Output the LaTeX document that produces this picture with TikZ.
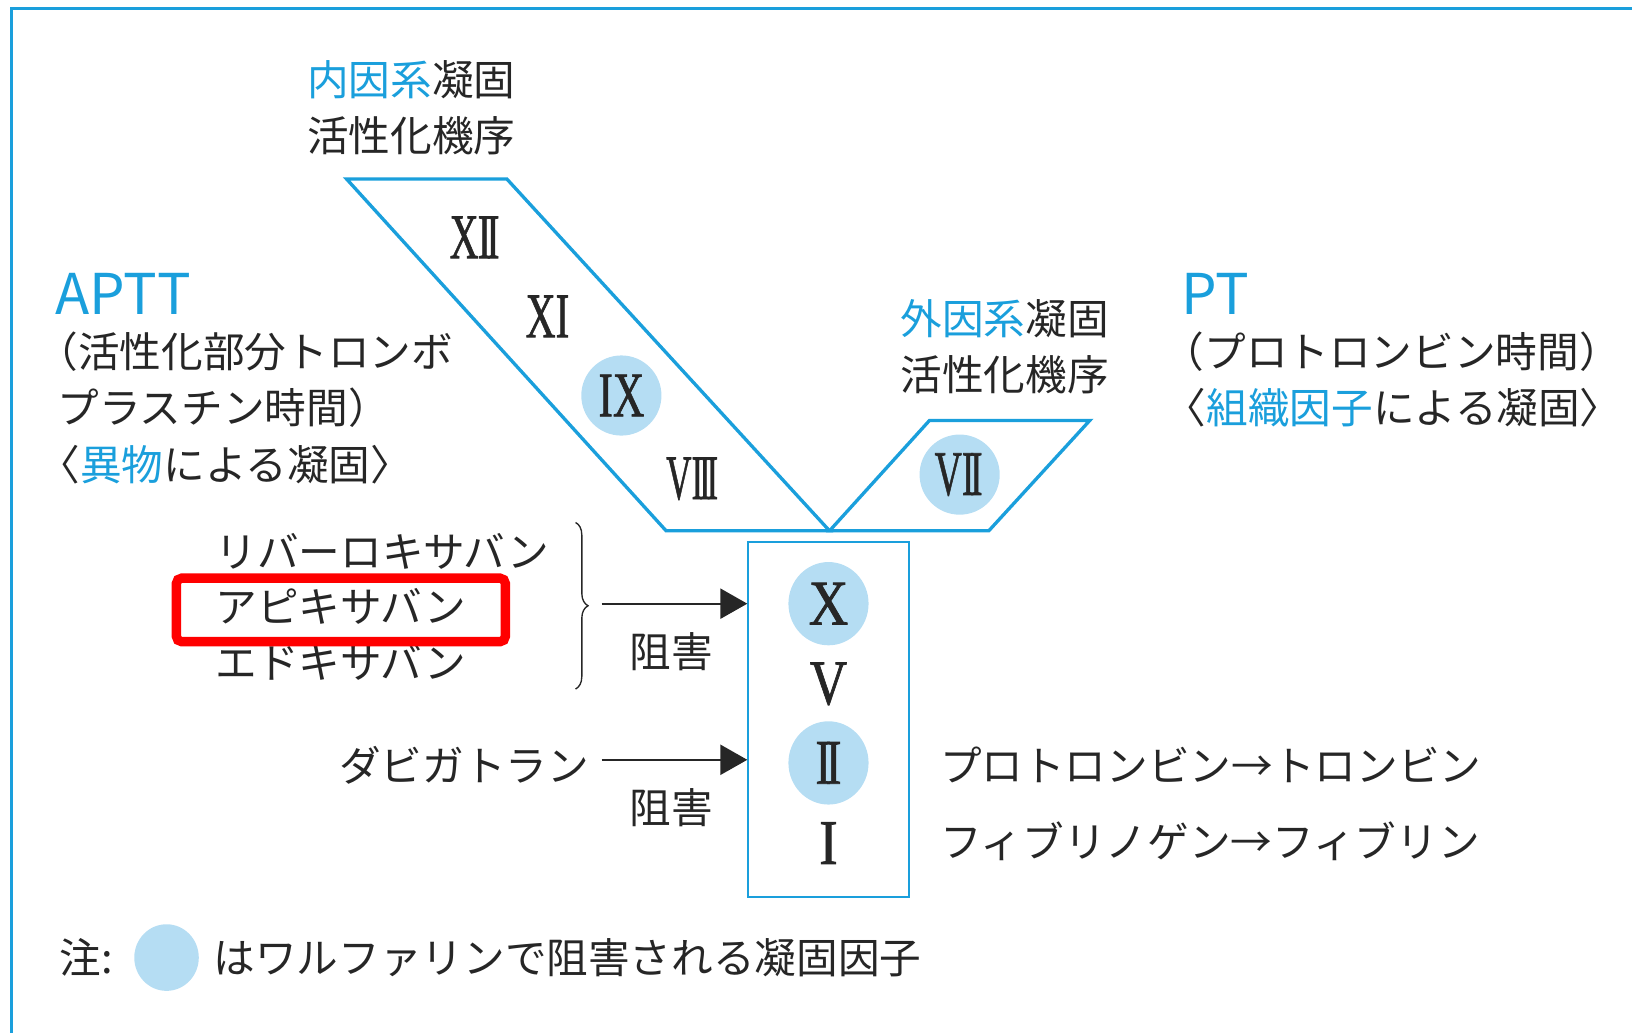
\documentclass[tikz,border=0pt]{standalone}
\usepackage{fontspec}
\usepackage{graphicx}
\usetikzlibrary{arrows.meta,decorations.pathreplacing,shapes.geometric}
\newfontfamily\jp{Noto Sans CJK JP}
\newfontfamily\ser[FakeBold=1.2]{Liberation Serif}
\definecolor{cblue}{HTML}{1A9FDC}
\definecolor{cfill}{HTML}{B5DDF3}
\definecolor{ink}{HTML}{262626}
\definecolor{hred}{HTML}{FF0000}
\newcommand{\rnum}[3]{\resizebox{#1pt}{#2pt}{\ser #3}}
\newcommand{\bl}[1]{\textcolor{cblue}{#1}}
\begin{document}
\begin{tikzpicture}[x=1pt,y=-1pt,
  jtxt/.style={inner sep=0pt, anchor=west, text=ink, font=\jp\fontsize{40}{48}\selectfont},
  ctxt/.style={jtxt, anchor=center},
  head/.style={inner sep=0pt, anchor=west, text=cblue, font=\jp\fontsize{54}{60}\selectfont},
  num/.style={inner sep=0pt, text=ink},
  dot/.style={ellipse, fill=cfill, inner sep=0pt},
  edgeline/.style={cblue, line width=3.2pt, line join=miter},
  inh/.style={ink, line width=2pt, -{Triangle[length=26pt,width=29pt]}}]
\useasboundingbox (0,0) rectangle (1568,992);

% frame
\draw[cblue, line width=2.4pt] (1568,8) -- (11,8) -- (11,992);

% pathways
\draw[edgeline] (333,172) -- (487,172) -- (797,510) -- (640,510) -- cycle;
\draw[edgeline] (797,510) -- (893,404) -- (1047,404) -- (950,510) -- cycle;

% factor box
\node[draw=cblue, line width=2pt, minimum width=154pt, minimum height=341pt, inner sep=0pt] (box) at (796,691.5) {};

% intrinsic factors
\node[num] (f12) at (456,228) {\rnum{48}{40}{X\kern-0.02em I\kern-0.12em I}};
\node[num] (f11) at (526,304) {\rnum{42}{40}{XI}};
\node[dot, minimum width=77pt, minimum height=77pt] (f9c) at (597,380) {};
\node[num] (f9) at (597,380) {\rnum{44}{40}{IX}};
\node[num] (f8) at (665,460) {\rnum{50}{40}{VI\kern-0.12em I\kern-0.12em I}};

% extrinsic factor
\node[dot, minimum width=77pt, minimum height=77pt] (f7c) at (922,456) {};
\node[num] (f7) at (921,456) {\rnum{46}{40}{VI\kern-0.12em I}};

% common pathway
\node[dot, minimum width=77pt, minimum height=80pt] (fxc) at (796,580) {};
\node[num] (fx) at (796,580) {\rnum{38}{40}{X}};
\node[num] (fv) at (796,657) {\rnum{36}{40}{V}};
\node[dot, minimum width=77pt, minimum height=80pt] (f2c) at (796,733) {};
\node[num] (f2) at (796,733) {\rnum{25}{40}{I\kern-0.12em I}};
\node[num] (f1) at (796,810) {\rnum{18}{40}{I}};

% titles
\node[jtxt] (in1) at (295,77) {\bl{内因系}凝固};
\node[jtxt] (in2) at (295,130) {活性化機序};
\node[jtxt] (ex1) at (865,306) {\bl{外因系}凝固};
\node[jtxt] (ex2) at (865,360) {活性化機序};

% APTT
\node[head] (aptt) at (53,282) {APTT};
\node[jtxt] (ap1) at (55,338) {\kern-20pt（活性化部分トロンボ};
\node[jtxt] (ap2) at (55,392) {プラスチン時間）};
\node[jtxt] (ap3) at (57,446) {\kern-20pt〈\bl{異物}による凝固〉};

% PT
\node[head] (pt) at (1135,282) {PT};
\node[jtxt] (pt1) at (1137,338) {\kern-20pt（プロトロンビン時間）};
\node[jtxt] (pt2) at (1139,392) {\kern-20pt〈\bl{組織因子}による凝固〉};

% drugs
\node[jtxt] (d1) at (207,530) {リバーロキサバン};
\node[jtxt] (d2) at (207,583) {アピキサバン};
\node[jtxt] (d3) at (207,636) {エドキサバン};
\node[jtxt, anchor=east] (d4) at (566,735) {ダビガトラン};

% brace and arrows
\coordinate (bt) at (553,502);
\coordinate (bb) at (553,662);
\draw[ink, line width=1.3pt, decorate, decoration={brace, amplitude=12pt}] (bt) -- (bb);
\coordinate (a1) at (578,580);
\coordinate (a2) at (578,730);
\draw[inh] (a1) -- (box.west |- a1);
\draw[inh] (a2) -- (box.west |- a2);
\node[ctxt] (i1) at (645,626) {阻害};
\node[ctxt] (i2) at (645,776) {阻害};

% reactions
\node[jtxt] (r1) at (903,735) {プロトロンビン→トロンビン};
\node[jtxt] (r2) at (903,808) {フィブリノゲン→フィブリン};

% highlight
\node[draw=hred, line width=9pt, rounded corners=5pt, minimum width=316pt, minimum height=61pt, inner sep=0pt] (hl) at (327.5,586) {};

% legend
\node[jtxt] (n1) at (57,920) {注:};
\node[dot, minimum width=62pt, minimum height=64pt] (lg) at (160,920) {};
\node[jtxt] (n2) at (205,920) {はワルファリンで阻害される凝固因子};
\end{tikzpicture}
\end{document}
